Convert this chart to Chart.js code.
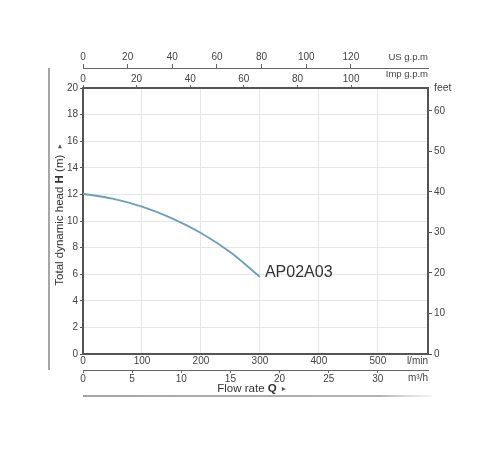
<!DOCTYPE html>
<html>
<head>
<meta charset="utf-8">
<script src="https://cdn.jsdelivr.net/npm/chart.js@4/dist/chart.umd.min.js"></script>
<style>
    body { margin: 0; background: #fff; }
    #wrap { width: 500px; height: 450px; }
</style>
</head>
<body>
<div id="wrap"><canvas id="pumpChart"></canvas></div>
<script>
// Pump curve (flow in l/min, head in m)
const flowLpm = [0, 50, 100, 150, 200, 250, 300];
const headM = [12.05, 11.68, 11.08, 10.22, 9.1, 7.65, 5.8];
const curveName = 'AP02A03';

// Tick labels shown on each axis
const lpmTicks = [0, 100, 200, 300, 400, 500];
const m3hTicks = [0, 5, 10, 15, 20, 25, 30];
const impTicks = [0, 20, 40, 60, 80, 100];
const usTicks = [0, 20, 40, 60, 80, 100, 120];
const headTicks = [0, 2, 4, 6, 8, 10, 12, 14, 16, 18, 20];
const feetTicks = [0, 10, 20, 30, 40, 50, 60];

// Axis ranges and unit conversions
const flowMax = 585;
const headMax = 20;
const LPM_PER_M3H = 16.6667;
const LPM_PER_IMP = 4.54609;
const LPM_PER_US = 3.78541;
const FT_PER_M = 3.28084;

const FONT = "'Liberation Sans', Arial, sans-serif";
const tickFont = { family: FONT, size: 10 };
const tickColor = '#444';

function fixedTicks(list) {
    return scale => { scale.ticks = list.map(v => ({ value: v })); };
}

// Draws titles, unit labels, curve name and the frame lines
const extrasPlugin = {
    id: 'extras',
    afterDraw(chart) {
        const { ctx, chartArea } = chart;
        const left = chartArea.left, right = chartArea.right;
        const top = chartArea.top, bottom = chartArea.bottom;
        ctx.save();

        // unit labels
        ctx.fillStyle = '#444';
        ctx.textBaseline = 'middle';
        ctx.font = `9.5px ${FONT}`;
        ctx.textAlign = 'right';
        ctx.fillText('US g.p.m', right, chart.scales.xUs.top + 6);
        ctx.fillText('Imp g.p.m', right, chart.scales.xImp.top + 6);
        ctx.font = `10px ${FONT}`;
        ctx.fillText('l/min', right, chart.scales.x.top + 7);
        ctx.fillText('m³/h', right, chart.scales.xM3h.top + 8);
        ctx.textAlign = 'left';
        ctx.font = `10.5px ${FONT}`;
        ctx.fillText('feet', right + 6, top);

        // curve name next to last point
        const pts = chart.getDatasetMeta(0).data;
        const last = pts[pts.length - 1];
        ctx.font = `16px ${FONT}`;
        ctx.fillStyle = '#333';
        ctx.fillText(curveName, last.x + 5, last.y - 4);

        // mixed-weight titles
        function drawParts(parts, cx, cy) {
            let total = 0;
            parts.forEach(p => { ctx.font = p.font; p.w = ctx.measureText(p.text).width; total += p.w; });
            let x = cx - total / 2;
            ctx.textAlign = 'left';
            parts.forEach(p => { ctx.font = p.font; ctx.fillStyle = p.color; ctx.fillText(p.text, x, cy); x += p.w; });
        }
        const reg = `11.5px ${FONT}`, bold = `bold 11.5px ${FONT}`, small = `8px 'DejaVu Sans', sans-serif`;
        drawParts([
            { text: 'Flow rate ', font: reg, color: '#333' },
            { text: 'Q', font: bold, color: '#333' },
            { text: '  ▸', font: small, color: '#555' }
        ], (left + right) / 2 - 4, chart.scales.xM3h.bottom + 4);

        ctx.save();
        ctx.translate(60, (top + bottom) / 2 - 6);
        ctx.rotate(-Math.PI / 2);
        drawParts([
            { text: 'Total dynamic head ', font: reg, color: '#333' },
            { text: 'H', font: bold, color: '#333' },
            { text: ' (m)  ', font: reg, color: '#333' },
            { text: '▸', font: small, color: '#555' }
        ], 0, 0);
        ctx.restore();

        // frame lines outside the plot
        ctx.strokeStyle = '#888';
        ctx.lineWidth = 1.5;
        ctx.beginPath();
        ctx.moveTo(49, chart.scales.xUs.bottom);
        ctx.lineTo(49, chart.scales.xM3h.top);
        ctx.stroke();
        const lineY = chart.scales.xM3h.bottom + 11;
        const grad = ctx.createLinearGradient(left, 0, right + 4, 0);
        grad.addColorStop(0, '#888');
        grad.addColorStop(0.85, '#999');
        grad.addColorStop(1, 'rgba(200,200,200,0.3)');
        ctx.strokeStyle = grad;
        ctx.beginPath();
        ctx.moveTo(left, lineY);
        ctx.lineTo(right + 4, lineY);
        ctx.stroke();
        ctx.restore();
    }
};

const ctx = document.getElementById('pumpChart').getContext('2d');
new Chart(ctx, {
    type: 'line',
    data: {
        datasets: [{
            label: curveName,
            data: flowLpm.map((q, i) => ({ x: q, y: headM[i] })),
            borderColor: '#6f9fb8',
            borderWidth: 1.8,
            pointRadius: 0,
            fill: false,
            cubicInterpolationMode: 'monotone',
            xAxisID: 'x',
            yAxisID: 'y'
        }]
    },
    options: {
        responsive: true,
        maintainAspectRatio: false,
        animation: false,
        layout: { padding: { top: 51, left: 53, right: 42, bottom: 65 } },
        plugins: {
            legend: { display: false },
            tooltip: { enabled: false }
        },
        scales: {
            x: {
                type: 'linear', position: 'bottom', weight: 0,
                min: 0, max: flowMax,
                afterBuildTicks: fixedTicks(lpmTicks),
                afterFit: s => { s.height = 16; },
                grid: { color: '#e6e6e6', drawTicks: false },
                border: { color: '#555', width: 2 },
                ticks: { padding: 1, color: tickColor, font: tickFont, maxRotation: 0 }
            },
            xM3h: {
                type: 'linear', position: 'bottom', weight: 1,
                min: 0, max: flowMax / LPM_PER_M3H,
                afterBuildTicks: fixedTicks(m3hTicks),
                afterFit: s => { s.height = 15; },
                grid: { drawOnChartArea: false, tickLength: 3, tickColor: '#666' },
                border: { color: '#666', width: 1 },
                ticks: { padding: 0, color: tickColor, font: tickFont, maxRotation: 0 }
            },
            xImp: {
                type: 'linear', position: 'top', weight: 0,
                min: 0, max: flowMax / LPM_PER_IMP,
                afterBuildTicks: fixedTicks(impTicks),
                afterFit: s => { s.height = 20; },
                grid: { drawOnChartArea: false, tickLength: 3, tickColor: '#666' },
                border: { color: '#555', width: 2 },
                ticks: { padding: 0, color: tickColor, font: tickFont, maxRotation: 0 }
            },
            xUs: {
                type: 'linear', position: 'top', weight: 1,
                min: 0, max: flowMax / LPM_PER_US,
                afterBuildTicks: fixedTicks(usTicks),
                afterFit: s => { s.height = 17; },
                grid: { drawOnChartArea: false, tickLength: 4, tickColor: '#666' },
                border: { color: '#666', width: 1 },
                ticks: { padding: 1, color: tickColor, font: tickFont, maxRotation: 0 }
            },
            y: {
                type: 'linear', position: 'left',
                min: 0, max: headMax,
                afterBuildTicks: fixedTicks(headTicks),
                afterFit: s => { s.width = 30; },
                grid: { color: '#e6e6e6', tickLength: 3, tickColor: '#555' },
                border: { color: '#555', width: 2 },
                ticks: { padding: 2, color: tickColor, font: tickFont }
            },
            yFeet: {
                type: 'linear', position: 'right',
                min: 0, max: headMax * FT_PER_M,
                afterBuildTicks: fixedTicks(feetTicks),
                afterFit: s => { s.width = 30; },
                grid: { drawOnChartArea: false, tickLength: 4, tickColor: '#555' },
                border: { color: '#555', width: 2 },
                ticks: { padding: 2, color: tickColor, font: tickFont }
            }
        }
    },
    plugins: [extrasPlugin]
});
</script>
</body>
</html>
